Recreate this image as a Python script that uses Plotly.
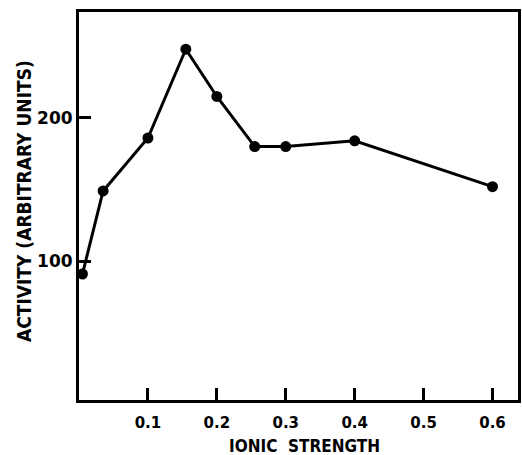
import plotly.graph_objects as go

ionic_strength = [0.005, 0.035, 0.1, 0.155, 0.2, 0.255, 0.3, 0.4, 0.6]
activity = [91, 149, 186, 248, 215, 180, 180, 184, 152]
x_ticks = [0.1, 0.2, 0.3, 0.4, 0.5, 0.6]
x_tick_labels = ["0.1", "0.2", "0.3", "0.4", "0.5", "0.6"]
y_ticks = [100, 200]
y_tick_labels = ["100", "200"]
x_title = "IONIC&nbsp; STRENGTH"
y_title = "ACTIVITY (ARBITRARY UNITS)"

font_family = "DejaVu Sans, Liberation Sans, sans-serif"
title_family = "DejaVu Sans Condensed, DejaVu Sans, sans-serif"

fig = go.Figure(
    go.Scatter(
        x=ionic_strength,
        y=activity,
        mode="lines+markers",
        line=dict(color="black", width=3),
        marker=dict(color="black", size=11),
        showlegend=False,
    )
)

L, R, T, B = 79, 4, 12, 55
W, H = 522, 455
pw, ph = W - L - R, H - T - B

fig.update_layout(
    width=W,
    height=H,
    margin=dict(l=L, r=R, t=T, b=B, autoexpand=False),
    paper_bgcolor="white",
    plot_bgcolor="white",
    font=dict(family=font_family, color="black"),
    annotations=[
        dict(
            text="<b>%s</b>" % x_title,
            xref="paper", yref="paper",
            x=(304 - L) / pw, y=(H - B - 446) / ph,
            xanchor="center", yanchor="middle",
            showarrow=False,
            font=dict(size=17, family=title_family, color="black"),
        ),
        dict(
            text="<b>%s</b>" % y_title,
            xref="paper", yref="paper",
            x=(24 - L) / pw, y=(H - B - 201) / ph,
            xanchor="center", yanchor="middle",
            textangle=-90,
            showarrow=False,
            font=dict(size=19, family=title_family, color="black"),
        ),
    ],
)

axis_common = dict(
    ticks="inside",
    ticklen=12,
    tickwidth=3,
    tickcolor="black",
    showline=True,
    linewidth=3,
    linecolor="black",
    mirror=True,
    showgrid=False,
    zeroline=False,
    automargin=False,
)

fig.update_xaxes(
    range=[0, 0.637],
    tickvals=x_ticks,
    ticktext=["<b>%s</b>" % t for t in x_tick_labels],
    tickfont=dict(size=15, family=font_family),
    ticklabelstandoff=7,
    **axis_common,
)

fig.update_yaxes(
    range=[3, 274],
    tickvals=y_ticks,
    ticktext=["<b>%s</b>" % t for t in y_tick_labels],
    tickfont=dict(size=17, family=font_family),
    **axis_common,
)

fig.write_html(
    "out.html",
    config={"displayModeBar": False},
    post_script="document.body.style.margin='0';",
)
